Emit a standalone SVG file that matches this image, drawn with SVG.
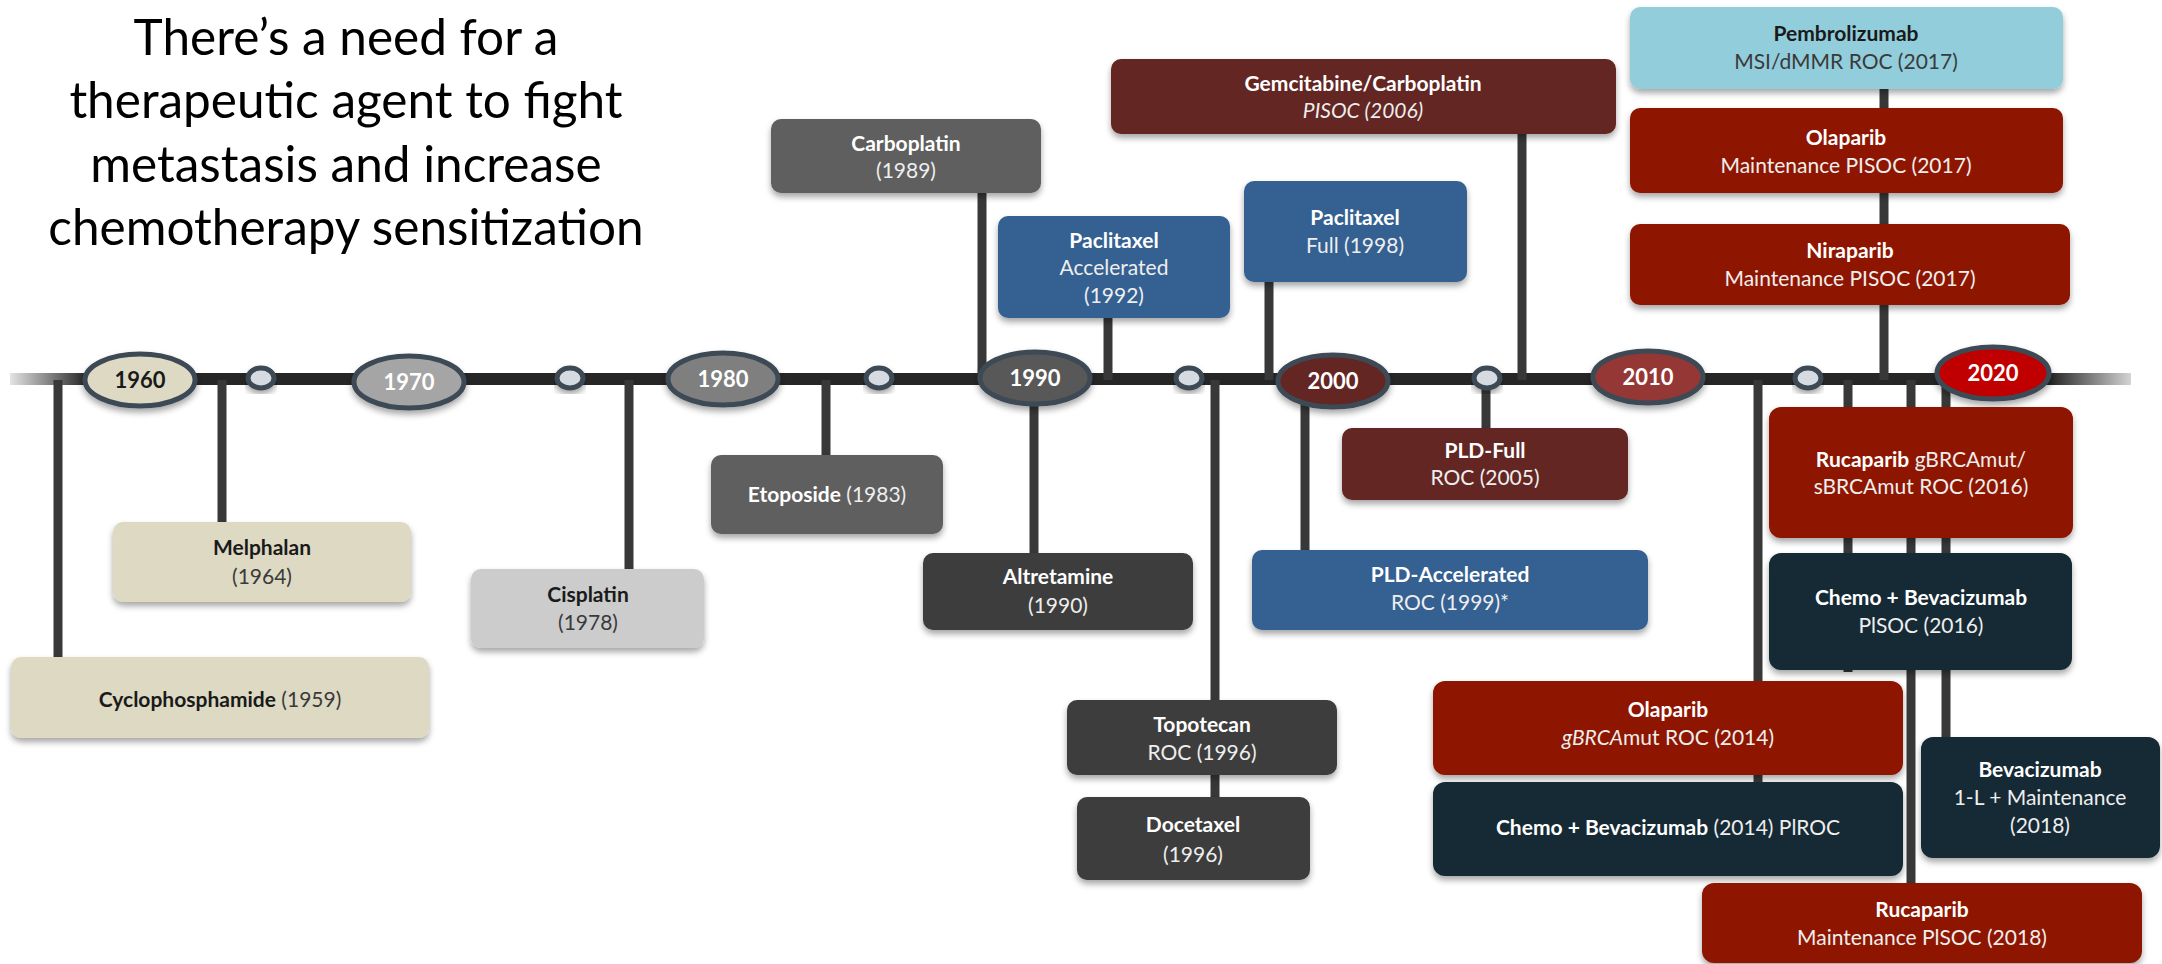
<svg xmlns="http://www.w3.org/2000/svg" width="2162" height="964" viewBox="0 0 2162 964">
  <defs>
    <filter id="shadow" x="-10%" y="-20%" width="120%" height="150%">
      <feDropShadow dx="0" dy="4" stdDeviation="3" flood-color="#000" flood-opacity="0.35"/>
    </filter>
    <linearGradient id="barGrad" gradientUnits="userSpaceOnUse" x1="10" y1="0" x2="2131" y2="0">
      <stop offset="0" stop-color="#e4e4e4"/>
      <stop offset="0.036" stop-color="#262626"/>
      <stop offset="0.962" stop-color="#262626"/>
      <stop offset="1" stop-color="#d4d4d4"/>
    </linearGradient>
    <style>
      .title { font-family: Lato, "Liberation Sans", sans-serif; font-size: 49.5px; fill: #000; text-anchor: middle; }
      .lbl { font-family: Lato, "Liberation Sans", sans-serif; font-size: 21px; text-anchor: middle; }
      .b { font-weight: bold; }
      .lt { fill: #ffffff; }
      .lt2 { fill: #eeeeee; }
      .dk { fill: #1a1a1a; }
      .dk2 { fill: #3a3a3a; }
      .yr { font-family: Lato, "Liberation Sans", sans-serif; font-size: 22px; font-weight: bold; text-anchor: middle; }
      .conn { stroke: #383838; stroke-width: 9; fill: none; }
      .decade { stroke: #3d4a54; stroke-width: 5; filter: url(#shadow); }
      .tick { fill: #d5dbe0; stroke: #3d4a54; stroke-width: 5; filter: url(#shadow); }
      .box { filter: url(#shadow); }
      .beige { fill: #ddd9c3; }
      .lgray { fill: #cccccc; }
      .mgray { fill: #5f5f5f; }
      .dgray { fill: #3d3d3d; }
      .blue { fill: #366092; }
      .maroon { fill: #632523; }
      .red { fill: #8e1600; }
      .teal { fill: #132c35; }
      .sky { fill: #92cddc; }
    </style>
  </defs>

  <rect width="2162" height="964" fill="#ffffff"/>

  <!-- heading -->
  <g id="heading">
    <text class="title" x="346" y="55">There’s a need for a</text>
    <text class="title" x="346" y="118">therapeutic agent to fight</text>
    <text class="title" x="346" y="182">metastasis and increase</text>
    <text class="title" x="346" y="245">chemotherapy sensitization</text>
  </g>

  <!-- main time axis -->
  <rect id="axis" x="10" y="373" width="2121" height="12" fill="url(#barGrad)"/>

  <!-- stems linking each approval to the axis -->
  <g id="connectors">
    <line class="conn" x1="58" y1="380" x2="58" y2="660"/>
    <line class="conn" x1="222" y1="380" x2="222" y2="525"/>
    <line class="conn" x1="629" y1="380" x2="629" y2="572"/>
    <line class="conn" x1="826" y1="380" x2="826" y2="458"/>
    <line class="conn" x1="982" y1="190" x2="982" y2="380"/>
    <line class="conn" x1="1034" y1="380" x2="1034" y2="556"/>
    <line class="conn" x1="1108" y1="315" x2="1108" y2="380"/>
    <line class="conn" x1="1215" y1="380" x2="1215" y2="800"/>
    <line class="conn" x1="1269" y1="280" x2="1269" y2="380"/>
    <line class="conn" x1="1305" y1="380" x2="1305" y2="553"/>
    <line class="conn" x1="1486" y1="380" x2="1486" y2="431"/>
    <line class="conn" x1="1522" y1="130" x2="1522" y2="380"/>
    <line class="conn" x1="1758" y1="380" x2="1758" y2="785"/>
    <line class="conn" x1="1848" y1="380" x2="1848" y2="672"/>
    <line class="conn" x1="1884" y1="85" x2="1884" y2="380"/>
    <line class="conn" x1="1911" y1="380" x2="1911" y2="887"/>
    <line class="conn" x1="1946" y1="380" x2="1946" y2="740"/>
  </g>

  <!-- decade markers and intermediate ticks -->
  <g id="markers">
    <ellipse class="decade" cx="140" cy="380" rx="55" ry="26" fill="#ddd9c3"/>
    <text class="yr dk" x="140" y="388">1960</text>
    <ellipse class="tick" cx="261" cy="378" rx="13" ry="10"/>
    <ellipse class="decade" cx="409" cy="382" rx="55" ry="26" fill="#a5a5a5"/>
    <text class="yr lt" x="409" y="390">1970</text>
    <ellipse class="tick" cx="570" cy="378" rx="13" ry="10"/>
    <ellipse class="decade" cx="723" cy="379" rx="55" ry="26" fill="#7f7f7f"/>
    <text class="yr lt" x="723" y="387">1980</text>
    <ellipse class="tick" cx="879" cy="378" rx="13" ry="10"/>
    <ellipse class="decade" cx="1035" cy="378" rx="55" ry="26" fill="#595959"/>
    <text class="yr lt" x="1035" y="386">1990</text>
    <ellipse class="tick" cx="1189" cy="378" rx="13" ry="10"/>
    <ellipse class="decade" cx="1333" cy="381" rx="55" ry="26" fill="#632523"/>
    <text class="yr lt" x="1333" y="389">2000</text>
    <ellipse class="tick" cx="1487" cy="378" rx="13" ry="10"/>
    <ellipse class="decade" cx="1648" cy="377" rx="55" ry="26" fill="#953735"/>
    <text class="yr lt" x="1648" y="385">2010</text>
    <ellipse class="tick" cx="1808" cy="378" rx="13" ry="10"/>
    <ellipse class="decade" cx="1993" cy="373" rx="56" ry="26" fill="#c00000"/>
    <text class="yr lt" x="1993" y="381">2020</text>
  </g>

  <!-- approvals -->
  <g id="cyclophosphamide">
    <rect class="box beige" x="11" y="657" width="418" height="81" rx="10"/>
    <text class="lbl" x="220" y="707"><tspan class="b dk">Cyclophosphamide</tspan><tspan class="dk2"> (1959)</tspan></text>
  </g>
  <g id="melphalan">
    <rect class="box beige" x="113" y="522" width="298" height="80" rx="10"/>
    <text class="lbl b dk" x="262" y="555">Melphalan</text>
    <text class="lbl dk2" x="262" y="584">(1964)</text>
  </g>
  <g id="cisplatin">
    <rect class="box lgray" x="471" y="569" width="233" height="79" rx="10"/>
    <text class="lbl b dk" x="588" y="602">Cisplatin</text>
    <text class="lbl dk2" x="588" y="630">(1978)</text>
  </g>
  <g id="etoposide">
    <rect class="box mgray" x="711" y="455" width="232" height="79" rx="10"/>
    <text class="lbl" x="827" y="502"><tspan class="b lt">Etoposide</tspan><tspan class="lt2"> (1983)</tspan></text>
  </g>
  <g id="carboplatin">
    <rect class="box mgray" x="771" y="119" width="270" height="74" rx="10"/>
    <text class="lbl b lt" x="906" y="151">Carboplatin</text>
    <text class="lbl lt2" x="906" y="178">(1989)</text>
  </g>
  <g id="paclitaxel-accelerated">
    <rect class="box blue" x="998" y="216" width="232" height="102" rx="10"/>
    <text class="lbl b lt" x="1114" y="248">Paclitaxel</text>
    <text class="lbl lt2" x="1114" y="275">Accelerated</text>
    <text class="lbl lt2" x="1114" y="303">(1992)</text>
  </g>
  <g id="paclitaxel-full">
    <rect class="box blue" x="1244" y="181" width="223" height="101" rx="10"/>
    <text class="lbl b lt" x="1355" y="225">Paclitaxel</text>
    <text class="lbl lt2" x="1355" y="253">Full (1998)</text>
  </g>
  <g id="gemcitabine-carboplatin">
    <rect class="box maroon" x="1111" y="59" width="505" height="75" rx="10"/>
    <text class="lbl b lt" x="1363" y="91">Gemcitabine/Carboplatin</text>
    <text class="lbl lt2" x="1363" y="118" font-style="italic">PISOC (2006)</text>
  </g>
  <g id="altretamine">
    <rect class="box dgray" x="923" y="553" width="270" height="77" rx="10"/>
    <text class="lbl b lt" x="1058" y="584">Altretamine</text>
    <text class="lbl lt2" x="1058" y="613">(1990)</text>
  </g>
  <g id="topotecan">
    <rect class="box dgray" x="1067" y="700" width="270" height="75" rx="10"/>
    <text class="lbl b lt" x="1202" y="732">Topotecan</text>
    <text class="lbl lt2" x="1202" y="760">ROC (1996)</text>
  </g>
  <g id="docetaxel">
    <rect class="box dgray" x="1077" y="797" width="233" height="83" rx="10"/>
    <text class="lbl b lt" x="1193" y="832">Docetaxel</text>
    <text class="lbl lt2" x="1193" y="862">(1996)</text>
  </g>
  <g id="pld-full">
    <rect class="box maroon" x="1342" y="428" width="286" height="72" rx="10"/>
    <text class="lbl b lt" x="1485" y="458">PLD-Full</text>
    <text class="lbl lt2" x="1485" y="485">ROC (2005)</text>
  </g>
  <g id="pld-accelerated">
    <rect class="box blue" x="1252" y="550" width="396" height="80" rx="10"/>
    <text class="lbl b lt" x="1450" y="582">PLD-Accelerated</text>
    <text class="lbl lt2" x="1450" y="610">ROC (1999)*</text>
  </g>
  <g id="pembrolizumab">
    <rect class="box sky" x="1630" y="7" width="433" height="82" rx="10"/>
    <text class="lbl b dk" x="1846" y="41">Pembrolizumab</text>
    <text class="lbl dk2" x="1846" y="69">MSI/dMMR ROC (2017)</text>
  </g>
  <g id="olaparib-2017">
    <rect class="box red" x="1630" y="108" width="433" height="85" rx="10"/>
    <text class="lbl b lt" x="1846" y="145">Olaparib</text>
    <text class="lbl lt2" x="1846" y="173">Maintenance PISOC (2017)</text>
  </g>
  <g id="niraparib">
    <rect class="box red" x="1630" y="224" width="440" height="81" rx="10"/>
    <text class="lbl b lt" x="1850" y="258">Niraparib</text>
    <text class="lbl lt2" x="1850" y="286">Maintenance PISOC (2017)</text>
  </g>
  <g id="rucaparib-2016">
    <rect class="box red" x="1769" y="407" width="304" height="131" rx="12"/>
    <text class="lbl" x="1921" y="467"><tspan class="b lt">Rucaparib</tspan><tspan class="lt2"> gBRCAmut/</tspan></text>
    <text class="lbl lt2" x="1921" y="494">sBRCAmut ROC (2016)</text>
  </g>
  <g id="chemo-bevacizumab-2016">
    <rect class="box teal" x="1769" y="553" width="303" height="117" rx="12"/>
    <text class="lbl b lt" x="1921" y="605">Chemo + Bevacizumab</text>
    <text class="lbl lt2" x="1921" y="633">PlSOC (2016)</text>
  </g>
  <g id="olaparib-2014">
    <rect class="box red" x="1433" y="681" width="470" height="94" rx="12"/>
    <text class="lbl b lt" x="1668" y="717">Olaparib</text>
    <text class="lbl lt2" x="1668" y="745"><tspan font-style="italic">gBRCA</tspan>mut ROC (2014)</text>
  </g>
  <g id="chemo-bevacizumab-2014">
    <rect class="box teal" x="1433" y="782" width="470" height="94" rx="12"/>
    <text class="lbl" x="1668" y="835"><tspan class="b lt">Chemo + Bevacizumab</tspan><tspan class="lt2"> (2014) PlROC</tspan></text>
  </g>
  <g id="bevacizumab-2018">
    <rect class="box teal" x="1921" y="737" width="239" height="121" rx="12"/>
    <text class="lbl b lt" x="2040" y="777">Bevacizumab</text>
    <text class="lbl lt2" x="2040" y="805">1-L + Maintenance</text>
    <text class="lbl lt2" x="2040" y="833">(2018)</text>
  </g>
  <g id="rucaparib-2018">
    <rect class="box red" x="1702" y="883" width="440" height="80" rx="12"/>
    <text class="lbl b lt" x="1922" y="917">Rucaparib</text>
    <text class="lbl lt2" x="1922" y="945">Maintenance PlSOC (2018)</text>
  </g>
</svg>
